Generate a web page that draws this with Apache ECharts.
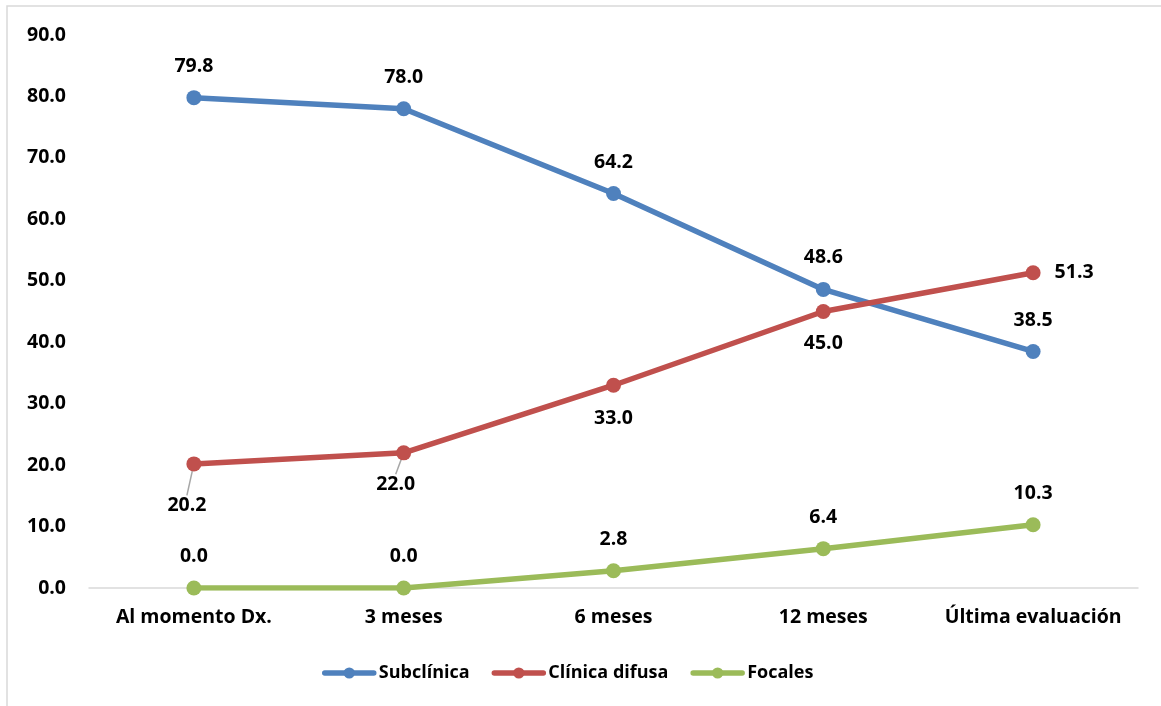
<!DOCTYPE html>
<html>
<head>
<meta charset="utf-8">
<script src="https://cdn.jsdelivr.net/npm/echarts@6/dist/echarts.min.js"></script>
<style>
  html, body { margin: 0; padding: 0; background: #fff; }
  #chart { width: 1161px; height: 706px; }
</style>
</head>
<body>
<div id="chart"></div>
<script>
// datos
const categorias = ['Al momento Dx.', '3 meses', '6 meses', '12 meses', 'Última evaluación'];
const subclinica = [79.8, 78.0, 64.2, 48.6, 38.5];
const clinicaDifusa = [20.2, 22.0, 33.0, 45.0, 51.3];
const focales = [0.0, 0.0, 2.8, 6.4, 10.3];
const yTicks = [0, 10, 20, 30, 40, 50, 60, 70, 80, 90];

const FONT = 'Open Sans';
const FS = 19.5;
const lbl = {
  show: true,
  color: '#000',
  fontFamily: FONT,
  fontWeight: 'bold',
  fontSize: FS,
  formatter: p => p.value.toFixed(1)
};

function serie(name, color, data, extra) {
  return {
    name: name,
    type: 'line',
    data: data.map((v, i) => {
      const d = { value: v };
      if (extra && extra[i]) Object.assign(d, extra[i]);
      return d;
    }),
    symbol: 'circle',
    symbolSize: 15,
    lineStyle: { color: color, width: 5.5 },
    itemStyle: { color: color },
    label: Object.assign({}, lbl, { position: 'top', distance: 14 })
  };
}

const guia = { show: true, lineStyle: { color: '#a6a6a6', width: 1.5 } };
const sinGuia = { show: false };

const chart = echarts.init(document.getElementById('chart'));
const series = [
  serie('Subclínica', '#4f81bd', subclinica),
  serie('Clínica difusa', '#c0504d', clinicaDifusa, [
    { label: { position: 'bottom', distance: 14 }, labelLine: guia },
    { label: { position: 'bottom', distance: 14 }, labelLine: guia },
    { label: { position: 'bottom', distance: 16 }, labelLine: sinGuia },
    { label: { position: 'bottom', distance: 14 }, labelLine: sinGuia },
    { label: { position: 'right', distance: 14 }, labelLine: sinGuia }
  ]),
  serie('Focales', '#9bbb59', focales)
];
// desplazamiento de 20.2 y 22.0 (con linea guia)
series[1].labelLayout = function (p) {
  if (p.dataIndex === 0) return { dx: -7, dy: 10 };
  if (p.dataIndex === 1) return { dx: -8, dy: 0 };
  return {};
};

chart.setOption({
  animation: false,
  textStyle: { fontFamily: FONT },
  graphic: [{
    type: 'rect',
    shape: { x: 7, y: 6, width: 1170, height: 720 },
    style: { fill: 'none', stroke: '#d9d9d9', lineWidth: 1.5 },
    silent: true
  }],
  grid: { left: 89, right: 23, top: 35, bottom: 118 },
  legend: {
    bottom: 19,
    left: 317,
    itemWidth: 49,
    itemHeight: 14,
    itemGap: 22,
    lineStyle: { width: 5.5, cap: 'round' },
    textStyle: { fontFamily: FONT, fontWeight: 'bold', fontSize: 18, color: '#000' },
    data: ['Subclínica', 'Clínica difusa', 'Focales']
  },
  xAxis: {
    type: 'category',
    data: categorias,
    boundaryGap: true,
    axisLine: { lineStyle: { color: '#d9d9d9', width: 1.5 } },
    axisTick: { show: false },
    axisLabel: { interval: 0, color: '#000', fontFamily: FONT, fontWeight: 'bold', fontSize: FS, margin: 19 }
  },
  yAxis: {
    type: 'value',
    min: yTicks[0],
    max: yTicks[yTicks.length - 1],
    interval: 10,
    axisLine: { show: false },
    axisTick: { show: false },
    splitLine: { show: false },
    axisLabel: {
      color: '#000', fontFamily: FONT, fontWeight: 'bold', fontSize: FS, margin: 23,
      formatter: v => v.toFixed(1)
    }
  },
  series: series
});
</script>
</body>
</html>
